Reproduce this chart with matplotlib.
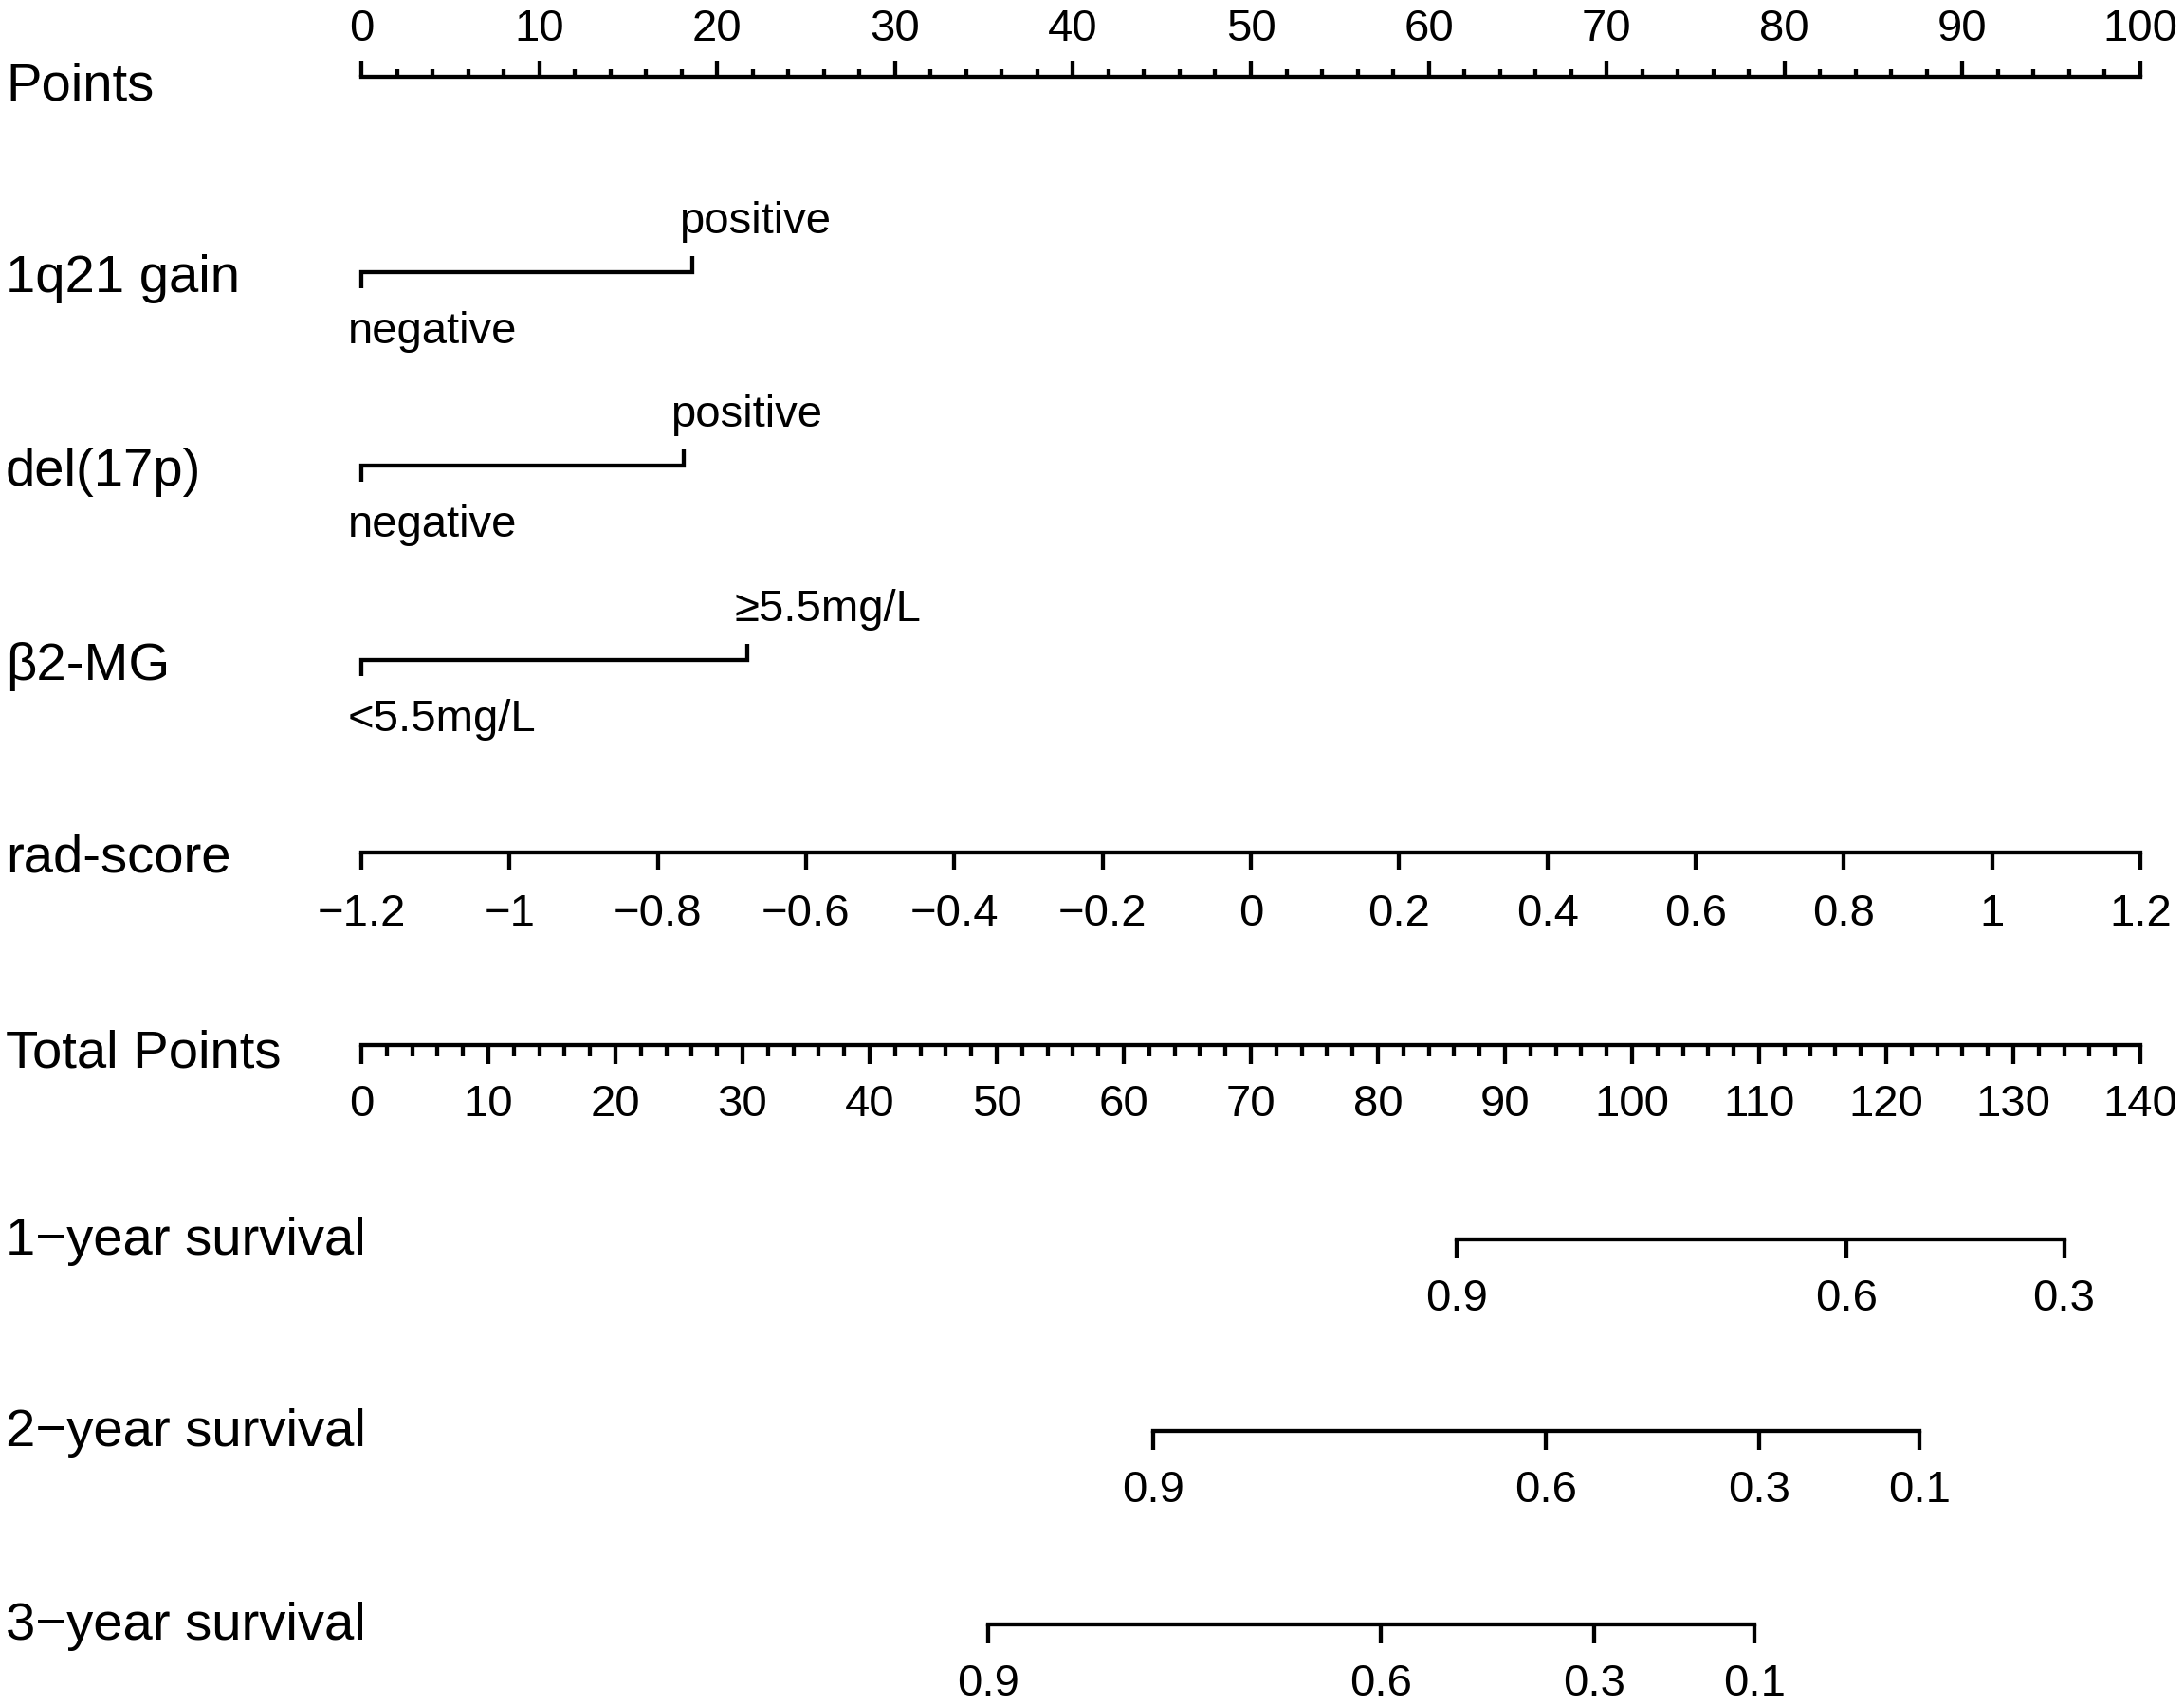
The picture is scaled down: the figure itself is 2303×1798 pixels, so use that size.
import matplotlib
matplotlib.use("Agg")
import matplotlib.pyplot as plt

plt.rcParams['font.family'] = ['Liberation Sans', 'DejaVu Sans']

# scale values
points_ticks = list(range(0, 101, 10))
points_minor = list(range(0, 101, 2))

cat_names = ["1q21 gain", "del(17p)", "β2-MG"]
cat_low = ["negative", "negative", "<5.5mg/L"]
cat_high = ["positive", "positive", "≥5.5mg/L"]
cat_points = [18.6, 18.15, 21.7]

rad_ticks = [-1.2, -1.0, -0.8, -0.6, -0.4, -0.2, 0.0, 0.2, 0.4, 0.6, 0.8, 1.0, 1.2]

total_ticks = list(range(0, 141, 10))
total_minor = list(range(0, 141, 2))

surv_names = ["1\u2212year survival", "2\u2212year survival", "3\u2212year survival"]
surv_probs = [[0.9, 0.6, 0.3], [0.9, 0.6, 0.3, 0.1], [0.9, 0.6, 0.3, 0.1]]
surv_points = [[86.2, 116.9, 134.0],
               [62.3, 93.2, 110.0, 122.6],
               [49.3, 80.2, 97.0, 109.6]]

# layout in pixels
W, H = 2303, 1799
X0, X1 = 381, 2257
LW = 3.1
TICK_FS = 34
LABEL_FS = 40.5
PX = 0.72  # points per pixel at dpi 100

fig = plt.figure(figsize=(W / 100, H / 100), dpi=100)


def fmt(v):
    s = "%g" % v
    return s.replace("-", "\u2212")


def name_label(text, baseline):
    fig.text(6 / W, 1 - baseline / H, text, fontsize=LABEL_FS, ha='left', va='baseline')


def scale_row(y_line, lim, ticks, labels, side='bottom', major_len=20, minor=None,
              minor_len=12, pad=20, bounds=None):
    if side == 'bottom':
        rect = [X0 / W, 1 - y_line / H, (X1 - X0) / W, 10 / H]
    else:
        rect = [X0 / W, 1 - (y_line + 10) / H, (X1 - X0) / W, 10 / H]
    ax = fig.add_axes(rect)
    ax.set_facecolor('none')
    ax.set_xlim(*lim)
    ax.set_yticks([])
    for s in ax.spines:
        ax.spines[s].set_visible(s == side)
    ax.spines[side].set_linewidth(LW)
    if bounds is not None:
        ax.spines[side].set_bounds(*bounds)
    ax.set_xticks(ticks)
    ax.set_xticklabels(labels, fontsize=TICK_FS)
    if minor is not None:
        ax.set_xticks(minor, minor=True)
        ax.tick_params(axis='x', which='minor', length=minor_len * PX, width=LW,
                       direction='out')
    ax.tick_params(axis='x', which='major', length=major_len * PX, width=LW,
                   direction='out', pad=pad * PX)
    if side == 'top':
        ax.xaxis.set_ticks_position('top')
        ax.xaxis.set_label_position('top')
    return ax


# Points
name_label("Points", 105)
scale_row(82, (0, 100), points_ticks, [fmt(t) for t in points_ticks], side='top',
          major_len=17, minor=points_minor, minor_len=8, pad=12)

# categorical predictors
cat_lines = [288, 492, 697]
for name, lo, hi, pts, y in zip(cat_names, cat_low, cat_high, cat_points, cat_lines):
    name_label(name, y + 20)
    ax = fig.add_axes([X0 / W, 1 - (y + 100) / H, (X1 - X0) / W, 200 / H])
    ax.set_xlim(0, 100)
    ax.set_ylim(100, -100)
    ax.axis('off')
    ax.plot([0, 0, pts, pts], [17, 0, 0, -17], color='black', lw=LW,
            solid_joinstyle='miter', solid_capstyle='butt', clip_on=False)
    ax.annotate(hi, (pts, -42), xytext=(-14 * PX, 0), textcoords='offset points',
                fontsize=TICK_FS, ha='left', va='baseline', annotation_clip=False)
    ax.annotate(lo, (0, 74), xytext=(-14 * PX, 0), textcoords='offset points',
                fontsize=TICK_FS, ha='left', va='baseline', annotation_clip=False)

# rad-score
name_label("rad-score", 920)
scale_row(900, (-1.2, 1.2), rad_ticks, [fmt(t) for t in rad_ticks],
          major_len=18, pad=24)

# Total Points
name_label("Total Points", 1125)
scale_row(1103, (0, 140), total_ticks, [fmt(t) for t in total_ticks],
          major_len=20, minor=total_minor, minor_len=12, pad=20)

# survival probabilities
surv_lines = [1308, 1510, 1714]
for name, probs, pts, y in zip(surv_names, surv_probs, surv_points, surv_lines):
    name_label(name, y + 15)
    scale_row(y, (0, 140), pts, [fmt(p) for p in probs], major_len=20, pad=20,
              bounds=(min(pts), max(pts)))

fig.savefig("out.png", dpi=100, facecolor='white')
